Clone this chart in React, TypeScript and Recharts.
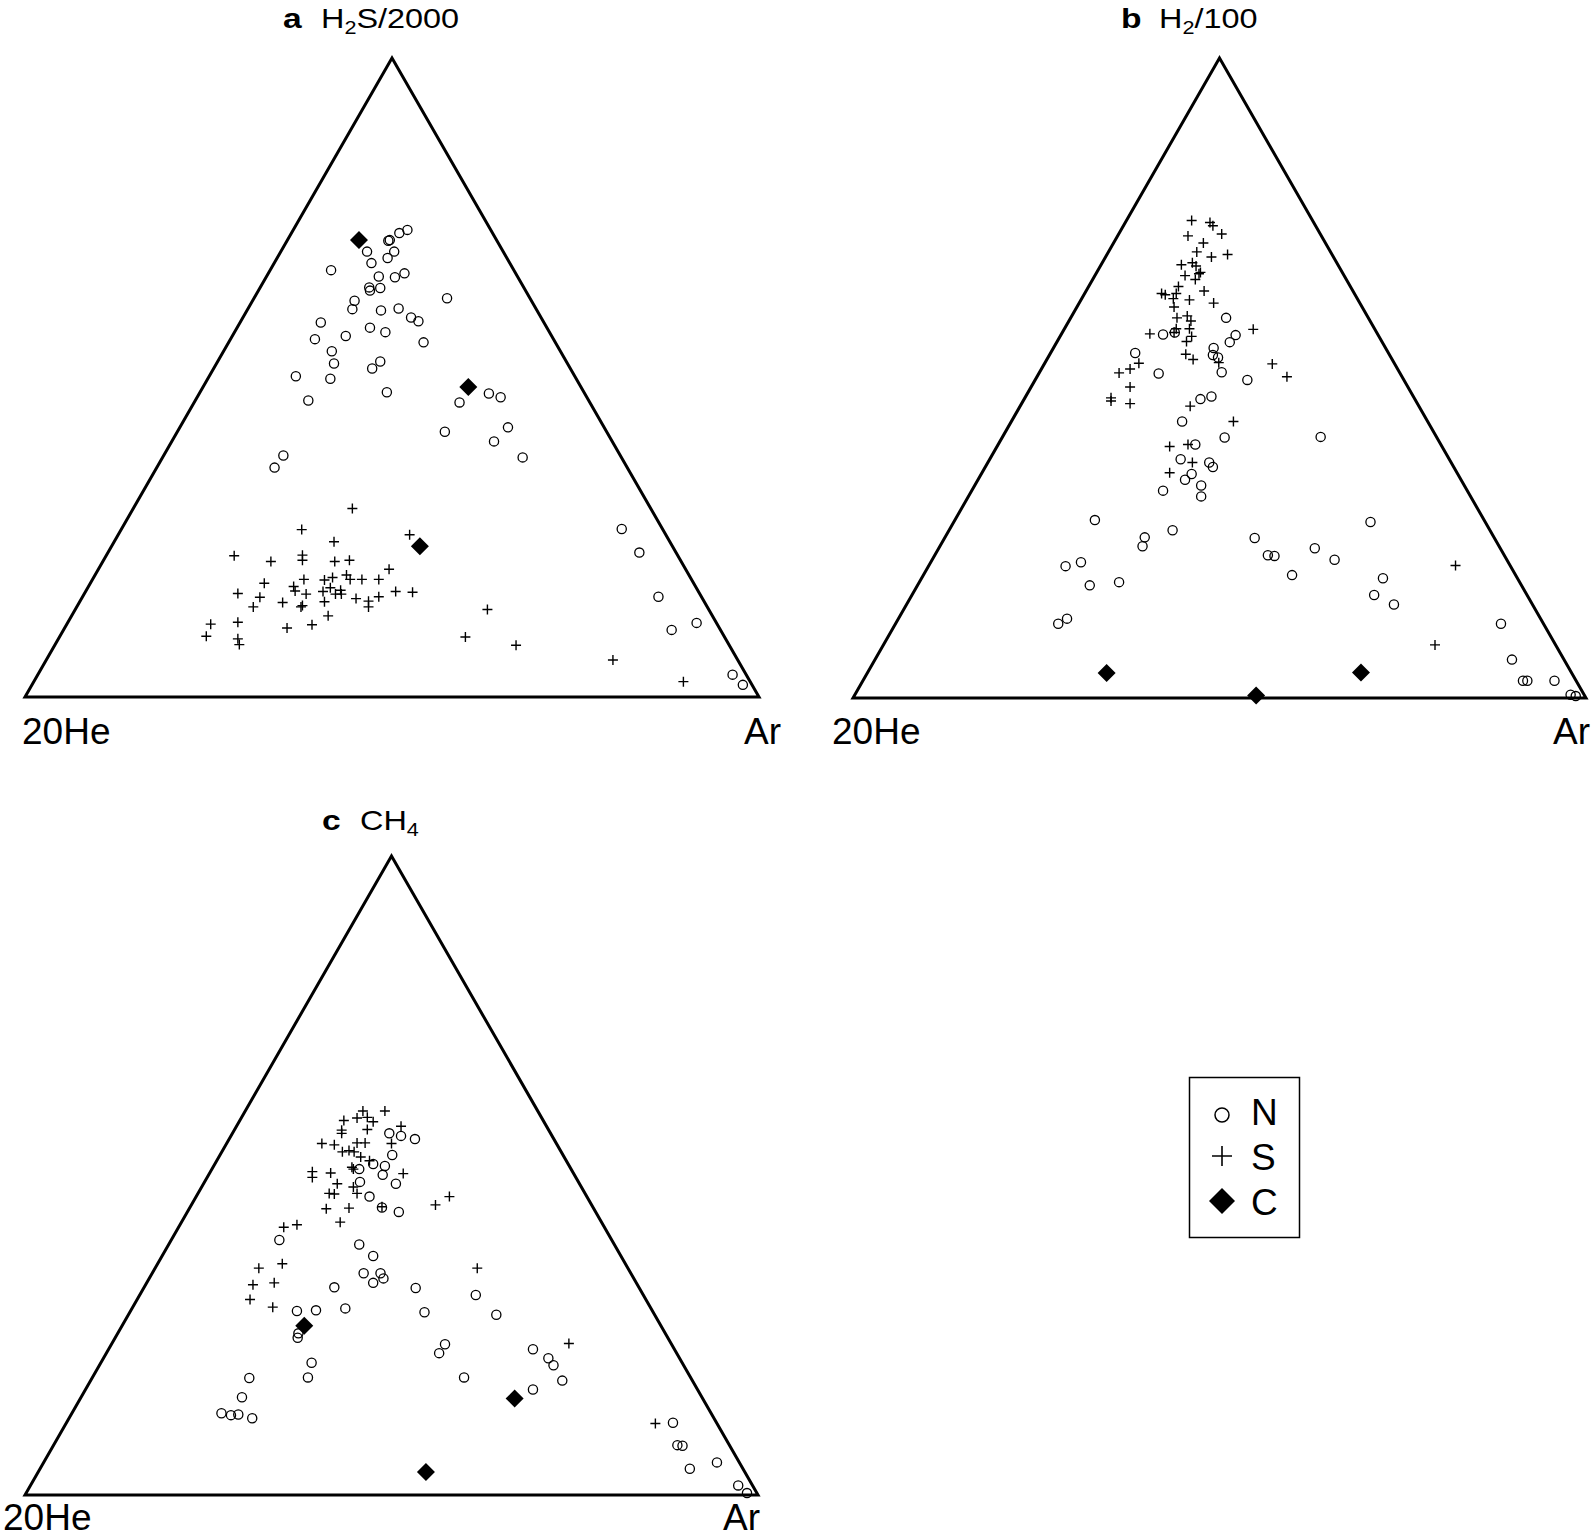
import React from 'react'
import { Scatter, ScatterChart, XAxis, YAxis } from 'recharts'

type Pt = [number, number]

// x = % along the base from 20He (0) to Ar (100), y = % of the height towards the apex gas

// panel a: H2S/2000
const aN: Pt[] = [
  [52.1, 73.1], [51.0, 72.6], [49.7, 71.5], [49.5, 71.4], [46.6, 69.7], [50.3, 69.7], [47.2, 67.9],
  [49.4, 68.7], [41.7, 66.8], [48.2, 65.8], [50.4, 65.7], [51.7, 66.3], [46.9, 64.1], [47.0, 63.6],
  [48.4, 64.0], [57.5, 62.4], [44.9, 62.0], [44.6, 60.7], [48.5, 60.5], [50.9, 60.8], [52.6, 59.4],
  [53.6, 58.8], [40.3, 58.6], [47.0, 57.8], [49.1, 57.1], [54.3, 55.5], [39.5, 56.0], [43.7, 56.5],
  [41.8, 54.1], [42.1, 52.2], [48.4, 52.5], [47.3, 51.4], [36.9, 50.2], [41.6, 49.8], [49.3, 47.7],
  [38.6, 46.4], [63.2, 47.5], [64.8, 46.9], [59.2, 46.1], [57.2, 41.5], [65.8, 42.2], [63.9, 40.0],
  [67.8, 37.5], [35.2, 37.8], [34.0, 35.9], [81.3, 26.3], [83.7, 22.6], [86.3, 15.7], [88.1, 10.5],
  [91.5, 11.6], [96.4, 3.5], [97.8, 1.9],
]
const aS: Pt[] = [
  [44.6, 29.5], [37.7, 26.2], [42.1, 24.3], [52.4, 25.4], [28.5, 22.1], [33.5, 21.2], [37.8, 22.2],
  [37.8, 21.4], [42.2, 21.2], [44.2, 21.4], [49.6, 20.0], [32.6, 17.8], [38.0, 18.4], [40.8, 18.3],
  [41.9, 18.7], [43.8, 19.1], [44.3, 18.4], [45.9, 18.4], [48.2, 18.4], [29.0, 16.2], [32.0, 15.6],
  [31.1, 14.1], [36.6, 17.3], [36.8, 16.6], [38.3, 16.1], [35.1, 14.8], [37.8, 14.3], [37.6, 14.1],
  [40.6, 16.5], [40.8, 14.9], [41.6, 17.1], [43.0, 16.7], [43.1, 16.1], [42.3, 16.1], [45.1, 15.4],
  [46.8, 15.0], [46.8, 14.1], [48.2, 15.7], [50.5, 16.5], [52.8, 16.4], [41.3, 12.7], [39.1, 11.3],
  [35.7, 10.8], [25.3, 11.4], [24.7, 9.5], [29.0, 11.7], [29.0, 9.1], [29.2, 8.2], [63.0, 13.7],
  [60.0, 9.4], [66.9, 8.1], [80.1, 5.8], [89.7, 2.4],
]
const aC: Pt[] = [[45.5, 71.5], [60.4, 48.5], [53.8, 23.6]]

// panel b: H2/100
const bN: Pt[] = [
  [50.9, 59.4], [52.2, 56.7], [51.4, 55.6], [42.3, 56.8], [43.9, 57.1], [38.5, 53.9], [41.7, 50.7],
  [49.2, 54.7], [49.1, 53.6], [49.8, 53.2], [50.3, 50.9], [53.8, 49.7], [47.4, 46.7], [48.9, 47.1],
  [44.9, 43.2], [50.7, 40.7], [63.8, 40.8], [46.7, 39.6], [44.7, 37.3], [48.6, 36.8], [49.1, 36.1],
  [46.2, 35.0], [45.3, 34.1], [47.5, 33.2], [47.5, 31.5], [42.3, 32.4], [33.0, 27.8], [29.0, 20.6],
  [31.1, 21.2], [32.3, 17.6], [36.3, 18.1], [39.8, 25.1], [39.5, 23.7], [43.6, 26.2], [29.2, 12.4],
  [28.0, 11.6], [54.8, 25.0], [56.6, 22.3], [57.5, 22.2], [59.9, 19.2], [63.0, 23.4], [65.7, 21.6],
  [70.6, 27.5], [72.3, 18.7], [71.1, 16.1], [73.8, 14.6], [88.4, 11.6], [89.9, 6.0], [91.4, 2.7],
  [92.0, 2.7], [95.7, 2.7], [97.9, 0.5], [98.6, 0.3],
]
const bS: Pt[] = [
  [46.2, 74.6], [48.7, 74.3], [49.1, 73.8], [50.3, 72.5], [45.7, 72.2], [47.8, 71.1], [46.9, 69.7],
  [48.9, 68.9], [51.1, 69.3], [44.8, 67.7], [46.3, 68.0], [46.8, 67.5], [47.4, 66.5], [47.2, 66.3],
  [45.3, 66.0], [46.7, 65.4], [44.4, 64.3], [42.1, 63.2], [42.6, 63.0], [44.1, 63.2], [43.7, 62.4],
  [45.9, 62.2], [47.9, 63.6], [49.2, 61.7], [43.8, 61.1], [44.2, 59.4], [45.6, 59.7], [46.1, 58.9],
  [44.1, 57.7], [40.5, 56.9], [43.8, 57.1], [45.9, 57.7], [46.2, 56.5], [45.5, 55.7], [54.6, 57.6],
  [45.4, 53.7], [46.4, 52.9], [49.9, 52.4], [39.0, 52.3], [37.8, 51.4], [36.3, 50.8], [37.8, 48.6],
  [35.2, 46.9], [35.2, 46.4], [37.8, 46.0], [57.2, 52.2], [59.2, 50.2], [46.0, 45.6], [51.9, 43.2],
  [43.2, 39.3], [45.7, 39.6], [46.3, 36.8], [43.2, 35.2], [82.2, 20.7], [79.4, 8.3],
]
const bC: Pt[] = [[34.6, 3.9], [55.0, 0.4], [69.3, 4.0]]

// panel c: CH4
const cN: Pt[] = [
  [49.7, 56.6], [51.3, 56.2], [53.2, 55.7], [50.1, 53.2], [45.6, 51.0], [47.5, 51.8], [49.1, 51.5],
  [48.8, 50.1], [50.6, 48.7], [45.7, 49.0], [47.0, 46.7], [48.7, 45.0], [51.0, 44.3], [34.7, 39.9],
  [45.6, 39.2], [47.5, 37.4], [46.2, 34.7], [48.5, 34.7], [48.9, 33.9], [47.5, 33.2], [42.2, 32.5],
  [53.3, 32.4], [61.5, 31.3], [37.1, 28.8], [39.7, 28.9], [43.7, 29.2], [54.5, 28.6], [64.3, 28.2],
  [37.3, 25.3], [37.2, 24.6], [39.1, 20.7], [38.6, 18.4], [57.3, 23.6], [56.5, 22.2], [59.9, 18.4],
  [69.3, 22.8], [71.4, 21.4], [72.1, 20.3], [73.3, 17.9], [69.3, 16.5], [30.6, 18.3], [29.6, 15.3],
  [26.8, 12.8], [28.1, 12.5], [29.1, 12.6], [31.0, 12.0], [88.4, 11.3], [89.0, 7.8], [89.7, 7.7],
  [90.7, 4.1], [94.4, 5.1], [97.3, 1.5], [98.5, 0.3],
]
const cS: Pt[] = [
  [46.1, 60.1], [49.1, 60.1], [45.3, 59.0], [46.7, 59.1], [47.5, 58.4], [43.5, 58.6], [43.2, 57.1],
  [43.2, 56.6], [46.7, 57.2], [51.3, 57.7], [40.5, 55.0], [42.2, 54.8], [43.3, 53.7], [44.2, 53.9],
  [45.3, 55.1], [46.4, 55.1], [44.9, 53.7], [45.8, 52.9], [50.0, 55.0], [47.0, 52.3], [44.6, 51.3],
  [44.8, 51.0], [39.2, 50.6], [39.2, 49.7], [41.7, 50.4], [42.6, 48.7], [44.8, 48.2], [41.5, 47.2],
  [42.2, 47.1], [45.3, 47.2], [51.6, 50.3], [41.1, 44.8], [44.2, 44.9], [43.0, 42.7], [48.7, 45.1],
  [56.0, 45.4], [57.9, 46.7], [35.3, 41.9], [37.1, 42.3], [31.9, 35.5], [35.1, 36.2], [31.1, 32.9],
  [34.0, 33.2], [30.7, 30.6], [33.8, 29.4], [61.7, 35.5], [74.2, 23.7], [86.0, 11.2],
]
const cC: Pt[] = [[38.1, 26.5], [66.8, 15.1], [54.7, 3.6]]

const frame = [
  { x: 0, y: 0 },
  { x: 100, y: 0 },
  { x: 50, y: 100 },
  { x: 0, y: 0 },
  { x: 100, y: 0 },
]

const FONT = 'Arial, "Liberation Sans", Helvetica, sans-serif'

const toXY = (pts: Pt[]) => pts.map(([x, y]) => ({ x, y }))

const Ring = (p: any) => (
  <circle cx={p.cx} cy={p.cy} r={4.6} fill="none" stroke="#000" strokeWidth={1.3} />
)
const Plus = (p: any) => (
  <path
    d={`M${p.cx - 5},${p.cy}h10M${p.cx},${p.cy - 5}v10`}
    stroke="#000"
    strokeWidth={1.4}
    fill="none"
  />
)
const Diamond = (p: any) => (
  <path d={`M${p.cx},${p.cy - 9}l9,9l-9,9l-9,-9z`} fill="#000" />
)
const NoDot = () => <g />

interface PanelProps {
  left: number
  top: number
  w: number
  h: number
  n: Pt[]
  s: Pt[]
  c: Pt[]
}

const Panel = ({ left, top, w, h, n, s, c }: PanelProps) => {
  const m = 20
  return (
    <div style={{ position: 'absolute', left: left - m, top: top - m }}>
      <ScatterChart
        width={w + 2 * m}
        height={h + 2 * m}
        margin={{ top: m, right: m, bottom: m, left: m }}
      >
        <XAxis type="number" dataKey="x" domain={[0, 100]} hide />
        <YAxis type="number" dataKey="y" domain={[0, 100]} hide />
        <Scatter
          data={frame}
          line={{ stroke: '#000', strokeWidth: 3 }}
          shape={NoDot}
          isAnimationActive={false}
        />
        <Scatter data={toXY(n)} shape={Ring} isAnimationActive={false} />
        <Scatter data={toXY(s)} shape={Plus} isAnimationActive={false} />
        <Scatter data={toXY(c)} shape={Diamond} isAnimationActive={false} />
      </ScatterChart>
    </div>
  )
}

const Title = ({ x, y, letter, children }: any) => (
  <g fontFamily={FONT} fill="#000">
    <g transform={`translate(${x},${y}) scale(1.2,1)`}>
      <text fontSize={28} fontWeight="bold">{letter}</text>
    </g>
    <g transform={`translate(${x + 38},${y}) scale(1.2,1)`}>
      <text fontSize={27}>{children}</text>
    </g>
  </g>
)

const Corners = ({ x0, x1, y }: { x0: number; x1: number; y: number }) => (
  <g fontFamily={FONT} fontSize={37} fill="#000">
    <text x={x0} y={y}>20He</text>
    <text x={x1} y={y} textAnchor="end">Ar</text>
  </g>
)

export default function App() {
  return (
    <div
      style={{
        position: 'absolute',
        left: 0,
        top: 0,
        width: 1595,
        height: 1539,
        background: '#fff',
        overflow: 'hidden',
      }}
    >
      <Panel left={25} top={58} w={734} h={639} n={aN} s={aS} c={aC} />
      <Panel left={853} top={58} w={733} h={640} n={bN} s={bS} c={bC} />
      <Panel left={25} top={856} w={733} h={639} n={cN} s={cS} c={cC} />

      <svg
        width={1595}
        height={1539}
        style={{ position: 'absolute', left: 0, top: 0, pointerEvents: 'none' }}
      >
        <Title x={283} y={28} letter="a">
          H<tspan fontSize={18} dy={6}>2</tspan>
          <tspan dy={-6}>S/2000</tspan>
        </Title>
        <Title x={1121} y={28} letter="b">
          H<tspan fontSize={18} dy={6}>2</tspan>
          <tspan dy={-6}>/100</tspan>
        </Title>
        <Title x={322} y={830} letter="c">
          CH<tspan fontSize={18} dy={6}>4</tspan>
        </Title>

        <Corners x0={22} x1={781} y={744} />
        <Corners x0={832} x1={1590} y={744} />
        <Corners x0={3} x1={760} y={1530} />

        <rect x={1189.5} y={1077.5} width={110} height={160} fill="none" stroke="#000" strokeWidth={1.5} />
        <circle cx={1222} cy={1115} r={7} fill="none" stroke="#000" strokeWidth={1.5} />
        <path d="M1212,1156h20M1222,1146v20" stroke="#000" strokeWidth={1.6} />
        <path d="M1222,1188l13,13l-13,13l-13,-13z" fill="#000" />
        <g fontFamily={FONT} fontSize={37} fill="#000">
          <text x={1251} y={1125}>N</text>
          <text x={1251} y={1170}>S</text>
          <text x={1251} y={1215}>C</text>
        </g>
      </svg>
    </div>
  )
}
